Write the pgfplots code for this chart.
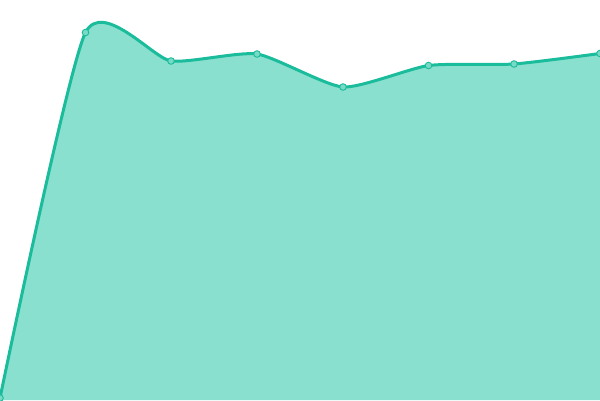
\documentclass[border=0pt]{standalone}
\usepackage{pgfplots}
\pgfplotsset{compat=1.18}
\definecolor{linec}{RGB}{26,188,156}
\definecolor{fillc}{RGB}{137,224,206}
\definecolor{markc}{RGB}{120,218,196}
\begin{document}
\begin{tikzpicture}
\begin{axis}[
  width=600bp, height=400bp, scale only axis,
  hide axis,
  xmin=0, xmax=600, ymin=0, ymax=400,
]
\addplot[draw=none, fill=fillc, smooth, tension=0.36] coordinates {
  (0,2) (85.5,367.5) (171,339) (257,346) (343,313) (428.5,334.5) (514,336) (600,346.5)
} \closedcycle;
\addplot[linec, line width=3bp, smooth, tension=0.36,
  mark=*, mark size=3.3bp, mark options={fill=markc, draw=linec, line width=0.9bp}] coordinates {
  (0,2) (85.5,367.5) (171,339) (257,346) (343,313) (428.5,334.5) (514,336) (600,346.5)
};
\end{axis}
\pgfresetboundingbox
\path (current axis.south west) rectangle (current axis.north east);
\end{tikzpicture}
\end{document}
